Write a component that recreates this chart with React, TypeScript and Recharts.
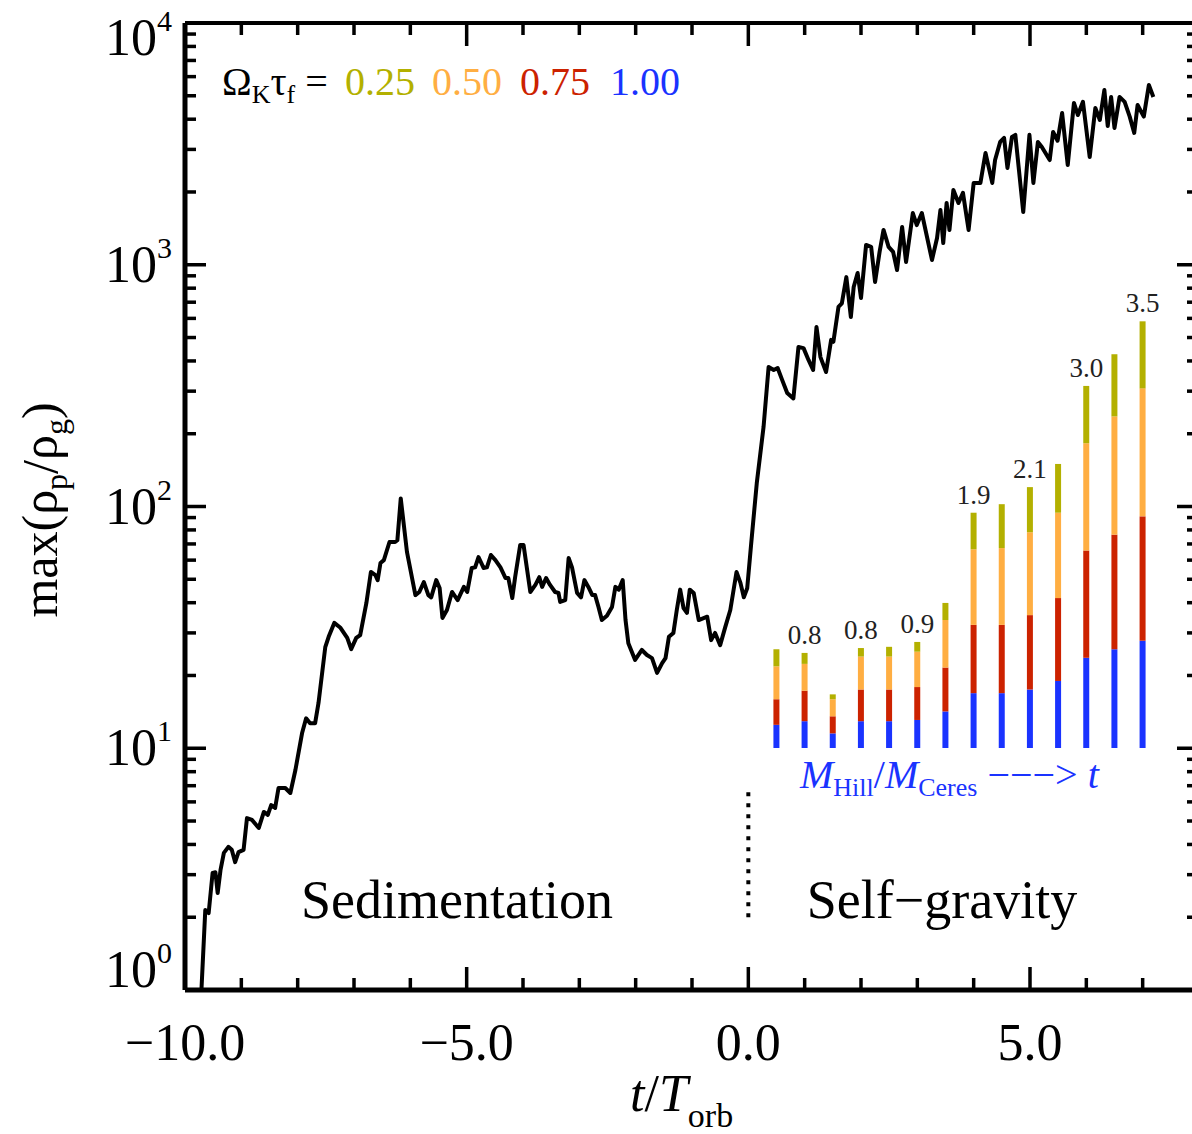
import React from "react"
import { ComposedChart, Line, Bar, XAxis, YAxis, ReferenceLine, LabelList } from "recharts"

// max particle density vs time (t / T_orb)
const LINE_T = [
  -9.71, -9.64, -9.58, -9.51, -9.46, -9.42, -9.37, -9.31, -9.23, -9.17, -9.11, -9.05, -8.96, -8.9, -8.81,
  -8.69, -8.6, -8.53, -8.47, -8.4, -8.34, -8.22, -8.13, -8.04, -7.92, -7.85, -7.78, -7.69, -7.63, -7.51,
  -7.45, -7.35, -7.24, -7.12, -7.05, -6.96, -6.89, -6.78, -6.7, -6.62, -6.58, -6.53, -6.47, -6.37, -6.27,
  -6.23, -6.17, -6.06, -5.91, -5.84, -5.76, -5.68, -5.63, -5.54, -5.48, -5.43, -5.35, -5.26, -5.16, -5.05,
  -4.99, -4.91, -4.85, -4.79, -4.7, -4.64, -4.57, -4.49, -4.4, -4.31, -4.26, -4.19, -4.14, -4.05, -3.99,
  -3.87, -3.78, -3.71, -3.66, -3.59, -3.52, -3.43, -3.37, -3.34, -3.25, -3.19, -3.13, -3.04, -2.97, -2.91,
  -2.84, -2.77, -2.72, -2.66, -2.6, -2.51, -2.42, -2.36, -2.3, -2.23, -2.18, -2.13, -2.01, -1.89, -1.8,
  -1.71, -1.62, -1.53, -1.47, -1.41, -1.33, -1.27, -1.21, -1.15, -1.09, -1.04, -0.97, -0.88, -0.73, -0.66,
  -0.59, -0.5, -0.41, -0.32, -0.21, -0.14, -0.08, -0.02, 0.05, 0.15, 0.27, 0.36, 0.45, 0.52, 0.6,
  0.69, 0.8, 0.89, 0.98, 1.07, 1.15, 1.21, 1.28, 1.38, 1.47, 1.51, 1.6, 1.66, 1.74, 1.82,
  1.87, 1.94, 2.0, 2.09, 2.18, 2.25, 2.33, 2.4, 2.49, 2.57, 2.64, 2.73, 2.8, 2.92, 2.99,
  3.08, 3.26, 3.35, 3.41, 3.46, 3.52, 3.57, 3.64, 3.73, 3.81, 3.91, 4.0, 4.12, 4.21, 4.33,
  4.38, 4.47, 4.54, 4.6, 4.68, 4.74, 4.88, 4.99, 5.06, 5.14, 5.21, 5.35, 5.41, 5.49, 5.57,
  5.67, 5.78, 5.85, 5.94, 6.06, 6.16, 6.24, 6.32, 6.38, 6.44, 6.5, 6.59, 6.68, 6.77, 6.85,
  6.91, 7.02, 7.11, 7.19,
]
const LINE_RHO = [
  0.98, 2.14, 2.08, 3.05, 3.07, 2.52, 3.13, 3.69, 3.91, 3.8, 3.38, 3.72, 3.8, 5.14, 5.05,
  4.68, 5.45, 5.3, 5.82, 5.66, 6.85, 6.85, 6.53, 8.13, 11.6, 13.3, 12.7, 12.7, 15.4, 26.2,
  28.9, 33.0, 31.5, 28.6, 25.7, 28.6, 29.4, 39.9, 53.6, 52.0, 49.6, 58.4, 60.0, 71.3, 71.3,
  72.5, 108, 64.9, 43.0, 44.3, 48.7, 43.0, 42.1, 49.6, 46.0, 34.6, 37.3, 44.3, 41.0, 46.5,
  44.3, 55.7, 56.0, 61.8, 55.7, 56.0, 63.0, 60.0, 56.0, 50.6, 50.6, 41.8, 51.0, 69.3, 69.3,
  44.3, 47.4, 51.0, 46.5, 50.6, 47.4, 44.3, 43.9, 40.3, 41.0, 61.2, 56.0, 43.9, 42.1, 49.6,
  46.5, 43.0, 43.0, 38.4, 33.9, 35.3, 38.4, 46.5, 45.3, 49.6, 33.9, 27.2, 23.2, 25.5, 24.3,
  23.6, 20.5, 22.5, 23.6, 28.9, 30.0, 37.3, 45.3, 38.0, 36.3, 45.3, 43.9, 33.9, 35.0, 28.0,
  30.0, 26.7, 31.7, 37.3, 53.6, 48.3, 42.1, 45.9, 70, 125, 213, 378, 367, 374, 334,
  295, 280, 457, 452, 403, 367, 553, 415, 360, 489, 480, 669, 692, 889, 608,
  809, 925, 728, 1207, 1186, 849, 1130, 1393, 1186, 1130, 951, 1432, 1026, 1637, 1459,
  1637, 1047, 1291, 1686, 1230, 1800, 1393, 2038, 1800, 1982, 1393, 2179, 2180, 2898, 2180,
  2711, 3221, 3346, 2512, 3381, 3446, 1652, 3446, 2180, 3221, 3070, 2711, 3541, 3258, 4245,
  2587, 4670, 4161, 4720, 2790, 4450, 3970, 5280, 3750, 4945, 3680, 4945, 4720, 4100, 3510,
  4580, 4100, 5540, 4945,
]

// inset: M_Hill / M_Ceres per friction time, stacked
const BAR_T = [0.5, 1.0, 1.5, 2.0, 2.5, 3.0, 3.5, 4.0, 4.5, 5.0, 5.5, 6.0, 6.5, 7.0]
const TAU_100 = [0.19, 0.22, 0.12, 0.22, 0.22, 0.23, 0.3, 0.45, 0.45, 0.48, 0.55, 0.74, 0.81, 0.88]
const TAU_075 = [0.21, 0.25, 0.14, 0.26, 0.26, 0.27, 0.36, 0.56, 0.56, 0.61, 0.68, 0.88, 0.94, 1.02]
const TAU_050 = [0.27, 0.22, 0.14, 0.27, 0.27, 0.29, 0.39, 0.62, 0.63, 0.68, 0.7, 0.88, 0.97, 1.05]
const TAU_025 = [0.14, 0.09, 0.04, 0.07, 0.08, 0.08, 0.14, 0.3, 0.36, 0.37, 0.4, 0.47, 0.51, 0.55]
const MASS_LABELS = ["", "0.8", "", "0.8", "", "0.9", "", "1.9", "", "2.1", "", "3.0", "", "3.5"]

const X_TICKS = [-10, -9, -8, -7, -6, -5, -4, -3, -2, -1, 0, 1, 2, 3, 4, 5, 6, 7, 8]
const DECADES = [1, 10, 100, 1000, 10000]
const Y_TICKS = DECADES.slice(0, 4).flatMap((d) => [1, 2, 3, 4, 5, 6, 7, 8, 9].map((m) => m * d)).concat([10000])

const OLIVE = "#b3b000"
const ORANGE = "#ffae42"
const RED = "#cc2200"
const BLUE = "#1a33ff"
const FONT = "'Liberation Serif', 'Times New Roman', serif"

const lineData = LINE_T.map((t, i) => ({ t, rho: LINE_RHO[i] }))
const barData = BAR_T.map((t, i) => ({
  t,
  tau100: TAU_100[i],
  tau075: TAU_075[i],
  tau050: TAU_050[i],
  tau025: TAU_025[i],
  label: MASS_LABELS[i],
}))

const fmtX = (v: number) => (v < 0 ? "\u2212" + Math.abs(v).toFixed(1) : v.toFixed(1))

function LeftTick({ x, y, payload }: any) {
  const v = payload.value
  const major = DECADES.includes(v)
  let ly = y + 17
  if (v === 10000) ly = y + 32
  if (v === 1) ly = y - 3
  return (
    <g>
      <line x1={x} x2={x + (major ? 21 : 11)} y1={y} y2={y} stroke="#000" strokeWidth={3.5} />
      {major && (
        <text x={x - 13} y={ly} textAnchor="end" fontFamily={FONT} fontSize={52} fill="#000">
          10
          <tspan fontSize={30} dy={-24}>
            {Math.round(Math.log10(v))}
          </tspan>
        </text>
      )}
    </g>
  )
}

function RightTick({ x, y, payload }: any) {
  const major = DECADES.includes(payload.value)
  return <line x1={x} x2={x - (major ? 22 : 12)} y1={y} y2={y} stroke="#000" strokeWidth={3.5} />
}

function BottomTick({ x, y, payload }: any) {
  const v = payload.value
  const major = v % 5 === 0
  return (
    <g>
      <line x1={x} x2={x} y1={y} y2={y - (major ? 23 : 12)} stroke="#000" strokeWidth={3.5} />
      {major && (
        <text x={x} y={y + 70} textAnchor="middle" fontFamily={FONT} fontSize={52} fill="#000">
          {fmtX(v)}
        </text>
      )}
    </g>
  )
}

function TopTick({ x, y, payload }: any) {
  const major = payload.value % 5 === 0
  return <line x1={x} x2={x} y1={y} y2={y + (major ? 23 : 12)} stroke="#000" strokeWidth={3.5} />
}

export default function App() {
  return (
    <div style={{ position: "absolute", left: 0, top: 0, width: 1192, height: 1134, overflow: "hidden", background: "#fff" }}>
      <ComposedChart width={1230} height={1134} data={barData} margin={{ top: 22, right: 30, bottom: 0, left: 0 }}>
        <XAxis
          xAxisId="main"
          type="number"
          dataKey="t"
          domain={[-10, 8]}
          allowDataOverflow
          ticks={X_TICKS}
          interval={0}
          height={144}
          tickSize={0}
          tickMargin={0}
          tick={<BottomTick />}
          axisLine={{ stroke: "#000", strokeWidth: 5 }}
        />
        <XAxis
          xAxisId="top"
          orientation="top"
          type="number"
          dataKey="t"
          domain={[-10, 8]}
          allowDataOverflow
          ticks={X_TICKS}
          interval={0}
          height={1}
          tickSize={0}
          tickMargin={0}
          tick={<TopTick />}
          axisLine={{ stroke: "#000", strokeWidth: 4 }}
        />
        <XAxis xAxisId="zbars" hide type="number" dataKey="t" domain={[-10, 8]} allowDataOverflow height={0} />
        <YAxis
          yAxisId="rho"
          scale="log"
          type="number"
          domain={[1, 10000]}
          allowDataOverflow
          ticks={Y_TICKS}
          interval={0}
          width={185}
          tickSize={0}
          tickMargin={0}
          tick={<LeftTick />}
          axisLine={{ stroke: "#000", strokeWidth: 5 }}
        />
        <YAxis
          yAxisId="right"
          orientation="right"
          scale="log"
          type="number"
          domain={[1, 10000]}
          allowDataOverflow
          ticks={Y_TICKS}
          interval={0}
          width={1}
          tickSize={0}
          tickMargin={0}
          tick={<RightTick />}
          axisLine={false}
        />
        <YAxis yAxisId="zbars" orientation="right" hide width={0} type="number" domain={[-1.985, 5.947]} allowDataOverflow />

        <ReferenceLine
          xAxisId="main"
          yAxisId="rho"
          segment={[{ x: 0, y: 2.0 }, { x: 0, y: 7.0 }]}
          stroke="#000"
          strokeWidth={4}
          strokeDasharray="4 7"
        />

        <Bar xAxisId="zbars" yAxisId="zbars" dataKey="tau100" stackId="m" fill={BLUE} barSize={6} isAnimationActive={false} />
        <Bar xAxisId="zbars" yAxisId="zbars" dataKey="tau075" stackId="m" fill={RED} barSize={6} isAnimationActive={false} />
        <Bar xAxisId="zbars" yAxisId="zbars" dataKey="tau050" stackId="m" fill={ORANGE} barSize={6} isAnimationActive={false} />
        <Bar xAxisId="zbars" yAxisId="zbars" dataKey="tau025" stackId="m" fill={OLIVE} barSize={6} isAnimationActive={false}>
          <LabelList dataKey="label" position="top" offset={9} fontSize={27} fill="#222" fontFamily={FONT} />
        </Bar>

        <Line
          xAxisId="main"
          yAxisId="rho"
          data={lineData}
          dataKey="rho"
          type="linear"
          stroke="#000"
          strokeWidth={4}
          strokeLinejoin="round"
          dot={false}
          activeDot={false}
          isAnimationActive={false}
        />
      </ComposedChart>

      <svg width={1192} height={1134} style={{ position: "absolute", left: 0, top: 0, pointerEvents: "none" }} fontFamily={FONT}>
        <text transform="translate(57,510) rotate(-90)" textAnchor="middle" fontSize={50} fill="#000">
          max(ρ<tspan fontSize={32} dy={10}>p</tspan>
          <tspan dy={-10}>/ρ</tspan>
          <tspan fontSize={32} dy={10}>g</tspan>
          <tspan dy={-10}>)</tspan>
        </text>
        <text x={630} y={1111} fontSize={52} fill="#000">
          <tspan fontStyle="italic">t</tspan>/<tspan fontStyle="italic">T</tspan>
          <tspan fontSize={34} dy={16}>orb</tspan>
        </text>

        <text x={222} y={95} fontSize={40} fill="#000">
          Ω<tspan fontSize={26} dy={8}>K</tspan>
          <tspan dy={-8}>τ</tspan>
          <tspan fontSize={26} dy={8}>f</tspan>
          <tspan dy={-8}> =</tspan>
        </text>
        <text x={345} y={95} fontSize={40} fill={OLIVE}>0.25</text>
        <text x={432} y={95} fontSize={40} fill={ORANGE}>0.50</text>
        <text x={520} y={95} fontSize={40} fill={RED}>0.75</text>
        <text x={610} y={95} fontSize={40} fill={BLUE}>1.00</text>

        <text x={457} y={918} textAnchor="middle" fontSize={54} fill="#000">Sedimentation</text>
        <text x={942} y={918} textAnchor="middle" fontSize={54} fill="#000">Self−gravity</text>

        <text x={800} y={788} fontSize={40} fill={BLUE}>
          <tspan fontStyle="italic">M</tspan>
          <tspan fontSize={26} dy={8}>Hill</tspan>
          <tspan dy={-8}>/</tspan>
          <tspan fontStyle="italic">M</tspan>
          <tspan fontSize={26} dy={8}>Ceres</tspan>
          <tspan dy={-8}> −−−&gt; </tspan>
          <tspan fontStyle="italic">t</tspan>
        </text>
      </svg>
    </div>
  )
}
